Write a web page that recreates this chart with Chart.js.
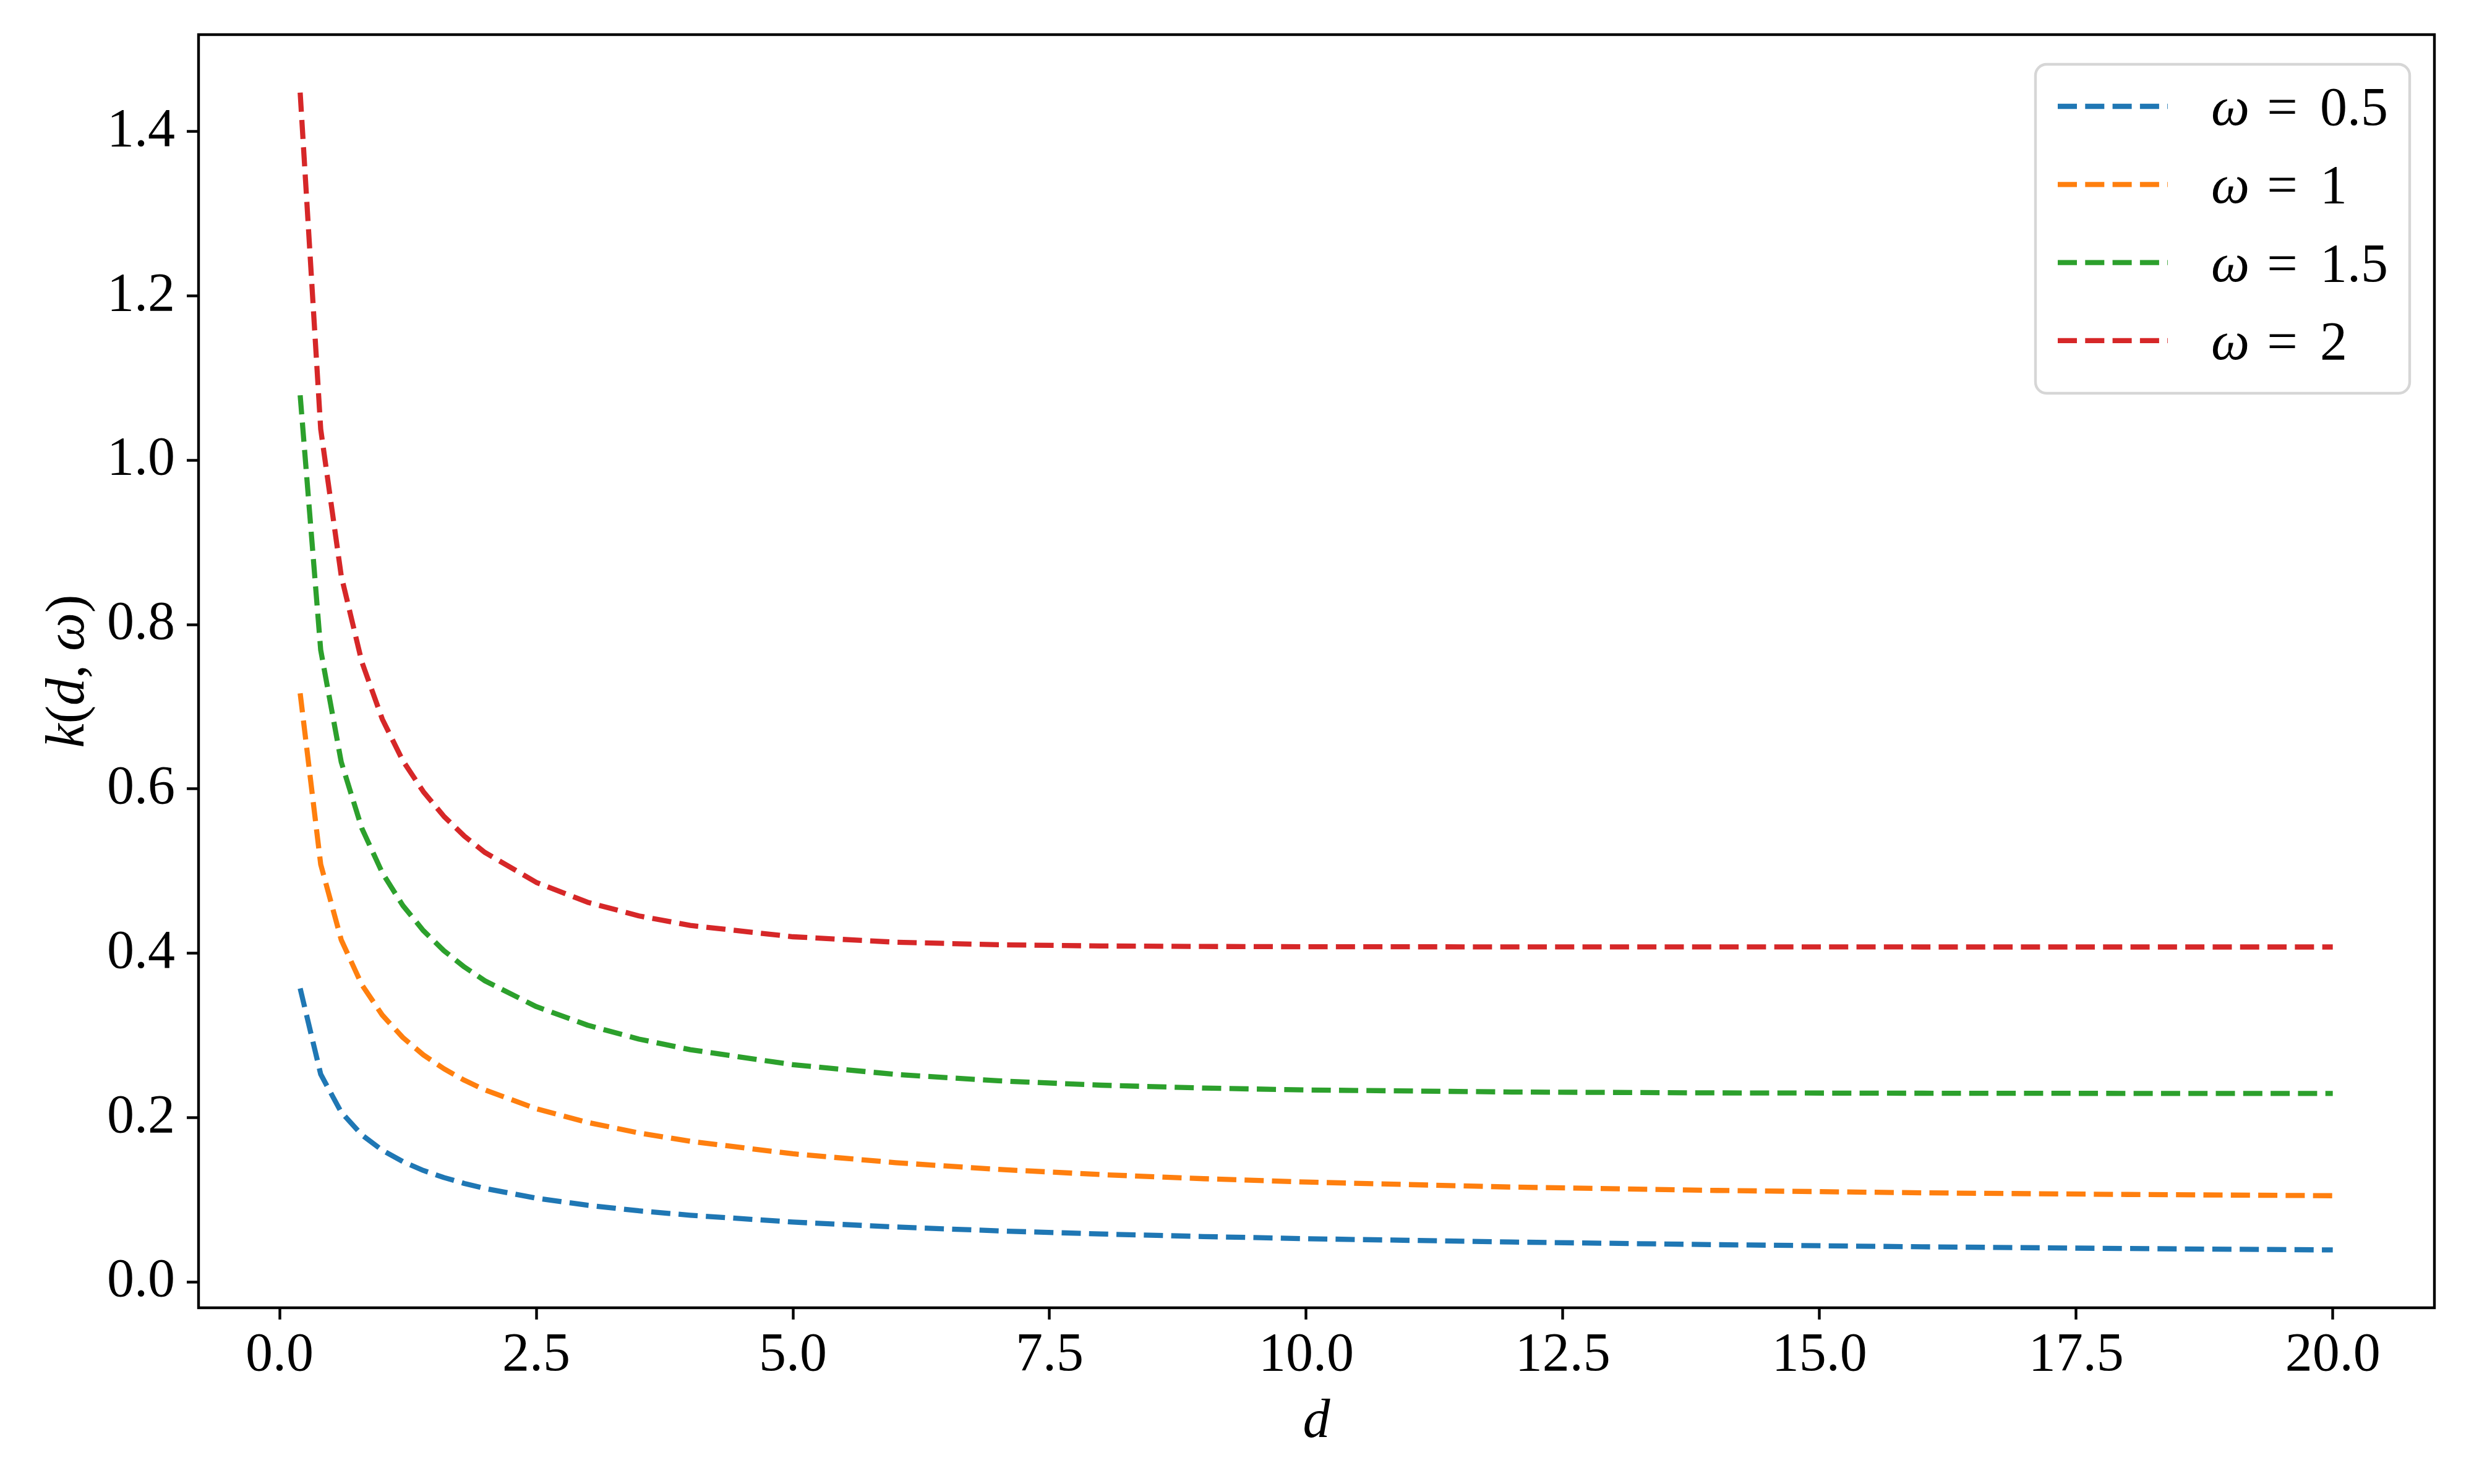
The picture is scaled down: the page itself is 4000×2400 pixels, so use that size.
<!DOCTYPE html>
<html lang="en">
<head>
  <meta charset="UTF-8" />
  <title>k(d, ω)</title>
  <script src="https://cdn.jsdelivr.net/npm/chart.js@4"></script>
  <style>
    html, body { margin: 0; padding: 0; background: #fff; }
    #wrap { width: 4000px; height: 2400px; }
  </style>
</head>
<body>
  <div id="wrap"><canvas id="kChart" width="4000" height="2400"></canvas></div>

  <script>
    // depth values d along the x axis
    const depths = [0.2, 0.4, 0.6, 0.8, 1.0, 1.2, 1.4, 1.6, 1.8, 2.0, 2.5, 3, 3.5, 4, 5, 6, 7, 8, 9, 10, 12, 14, 16, 18, 20];

    // k(d, w), one array per w
    const kOmega05 = [0.3573, 0.2528, 0.2066, 0.1791, 0.1603, 0.1465, 0.1357, 0.1271, 0.1199, 0.1138, 0.1020, 0.0934, 0.0866, 0.0812, 0.0729, 0.0669, 0.0622, 0.0584, 0.0553, 0.0527, 0.0486, 0.0454, 0.0428, 0.0407, 0.0390];
    const kOmega1  = [0.7164, 0.5083, 0.4164, 0.3619, 0.3248, 0.2975, 0.2764, 0.2595, 0.2455, 0.2337, 0.2109, 0.1942, 0.1814, 0.1712, 0.1560, 0.1452, 0.1370, 0.1307, 0.1257, 0.1216, 0.1155, 0.1114, 0.1085, 0.1065, 0.1050];
    const kOmega15 = [1.0791, 0.7690, 0.6328, 0.5524, 0.4980, 0.4582, 0.4276, 0.4032, 0.3833, 0.3665, 0.3351, 0.3125, 0.2956, 0.2827, 0.2644, 0.2526, 0.2448, 0.2395, 0.2360, 0.2337, 0.2312, 0.2301, 0.2297, 0.2295, 0.2294];
    const kOmega2  = [1.4475, 1.0379, 0.8594, 0.7549, 0.6850, 0.6344, 0.5967, 0.5667, 0.5425, 0.5227, 0.4863, 0.4621, 0.4455, 0.4339, 0.4201, 0.4135, 0.4104, 0.4089, 0.4083, 0.4080, 0.4078, 0.4078, 0.4077, 0.4077, 0.4077];

    const omegaLabels = ['0.5', '1', '1.5', '2'];
    const xTicks = [0, 2.5, 5, 7.5, 10, 12.5, 15, 17.5, 20];
    const yTicks = [0, 0.2, 0.4, 0.6, 0.8, 1.0, 1.2, 1.4];

    const colors = ['#1f77b4', '#ff7f0e', '#2ca02c', '#d62728'];
    const FONT = "'Liberation Serif', 'Times New Roman', serif";
    const FS = 88;

    function toPoints(vals) {
      return depths.map((d, i) => ({ x: d, y: vals[i] }));
    }

    // draw a row of text pieces, some italic, on one baseline
    function drawPieces(ctx, pieces, x, baseline, align) {
      const widths = pieces.map(p => {
        ctx.font = (p[1] ? 'italic ' : '') + FS + 'px ' + FONT;
        return ctx.measureText(p[0]).width;
      });
      const total = widths.reduce((a, b) => a + b, 0);
      let cx = align === 'center' ? x - total / 2 : x;
      ctx.textAlign = 'left';
      ctx.textBaseline = 'alphabetic';
      pieces.forEach((p, i) => {
        ctx.font = (p[1] ? 'italic ' : '') + FS + 'px ' + FONT;
        ctx.fillText(p[0], cx, baseline);
        cx += widths[i];
      });
    }

    const framePlugin = {
      id: 'frameAndText',
      afterDraw(chart) {
        const { ctx, chartArea: a } = chart;
        ctx.save();
        ctx.fillStyle = '#000';
        ctx.strokeStyle = '#000';
        ctx.lineWidth = 4.4;
        ctx.strokeRect(a.left, a.top, a.right - a.left, a.bottom - a.top);

        // x axis title
        drawPieces(ctx, [['d', true]], (a.left + a.right) / 2, 2324, 'center');

        // y axis title, rotated
        ctx.save();
        ctx.translate(107, (a.top + a.bottom) / 2);
        ctx.rotate(-Math.PI / 2);
        drawPieces(ctx, [['k', true], ['(', false], ['d', true], [', ', false], ['ω', true], [')', false]], 0, 28, 'center');
        ctx.restore();

        // legend box
        const lx = 3291, ly = 104, lw = 605, lh = 532, r = 18;
        ctx.beginPath();
        ctx.moveTo(lx + r, ly);
        ctx.arcTo(lx + lw, ly, lx + lw, ly + lh, r);
        ctx.arcTo(lx + lw, ly + lh, lx, ly + lh, r);
        ctx.arcTo(lx, ly + lh, lx, ly, r);
        ctx.arcTo(lx, ly, lx + lw, ly, r);
        ctx.closePath();
        ctx.fillStyle = 'rgba(255,255,255,0.8)';
        ctx.fill();
        ctx.strokeStyle = '#d6d6d6';
        ctx.lineWidth = 4.4;
        ctx.stroke();

        chart.data.datasets.forEach((ds, i) => {
          const rowY = ly + 68 + i * 126.3;
          ctx.save();
          ctx.strokeStyle = ds.borderColor;
          ctx.lineWidth = 8.3;
          ctx.setLineDash([31, 13.3]);
          ctx.beginPath();
          ctx.moveTo(3327, rowY);
          ctx.lineTo(3505, rowY);
          ctx.stroke();
          ctx.restore();

          ctx.fillStyle = '#000';
          const base = rowY + 30;
          drawPieces(ctx, [['ω', true]], 3575, base, 'left');
          drawPieces(ctx, [['=', false]], 3690, base, 'center');
          drawPieces(ctx, [[omegaLabels[i], false]], 3751, base, 'left');
        });
        ctx.restore();
      }
    };

    const gridOpts = {
      display: true,
      drawOnChartArea: false,
      drawTicks: true,
      tickLength: 19,
      tickWidth: 4.4,
      tickColor: '#000'
    };

    const ctx = document.getElementById('kChart').getContext('2d');
    new Chart(ctx, {
      type: 'line',
      data: {
        datasets: [kOmega05, kOmega1, kOmega15, kOmega2].map((vals, i) => ({
          label: 'ω = ' + omegaLabels[i],
          data: toPoints(vals),
          borderColor: colors[i],
          backgroundColor: colors[i],
          borderWidth: 8.3,
          borderDash: [31, 13.3],
          borderJoinStyle: 'round',
          pointRadius: 0,
          tension: 0,
          fill: false
        }))
      },
      options: {
        responsive: false,
        animation: false,
        devicePixelRatio: 1,
        layout: { padding: { top: 56, right: 64, left: 0, bottom: 0 } },
        plugins: {
          legend: { display: false },
          tooltip: { enabled: false }
        },
        scales: {
          x: {
            type: 'linear',
            min: -0.79,
            max: 20.99,
            afterBuildTicks: s => { s.ticks = xTicks.map(v => ({ value: v })); },
            afterFit: s => { s.height = 285; s.paddingLeft = 0; s.paddingRight = 0; },
            grid: gridOpts,
            border: { display: false },
            ticks: {
              autoSkip: false,
              maxRotation: 0,
              padding: 6,
              color: '#000',
              font: { family: FONT, size: FS },
              callback: v => Number(v).toFixed(1)
            }
          },
          y: {
            type: 'linear',
            min: -0.0314,
            max: 1.518,
            afterBuildTicks: s => { s.ticks = yTicks.map(v => ({ value: v })); },
            afterFit: s => { s.width = 321; s.paddingTop = 0; s.paddingBottom = 0; },
            grid: gridOpts,
            border: { display: false },
            ticks: {
              autoSkip: false,
              padding: 19,
              color: '#000',
              font: { family: FONT, size: FS },
              callback: v => Number(v).toFixed(1)
            }
          }
        }
      },
      plugins: [framePlugin]
    });
  </script>
</body>
</html>
